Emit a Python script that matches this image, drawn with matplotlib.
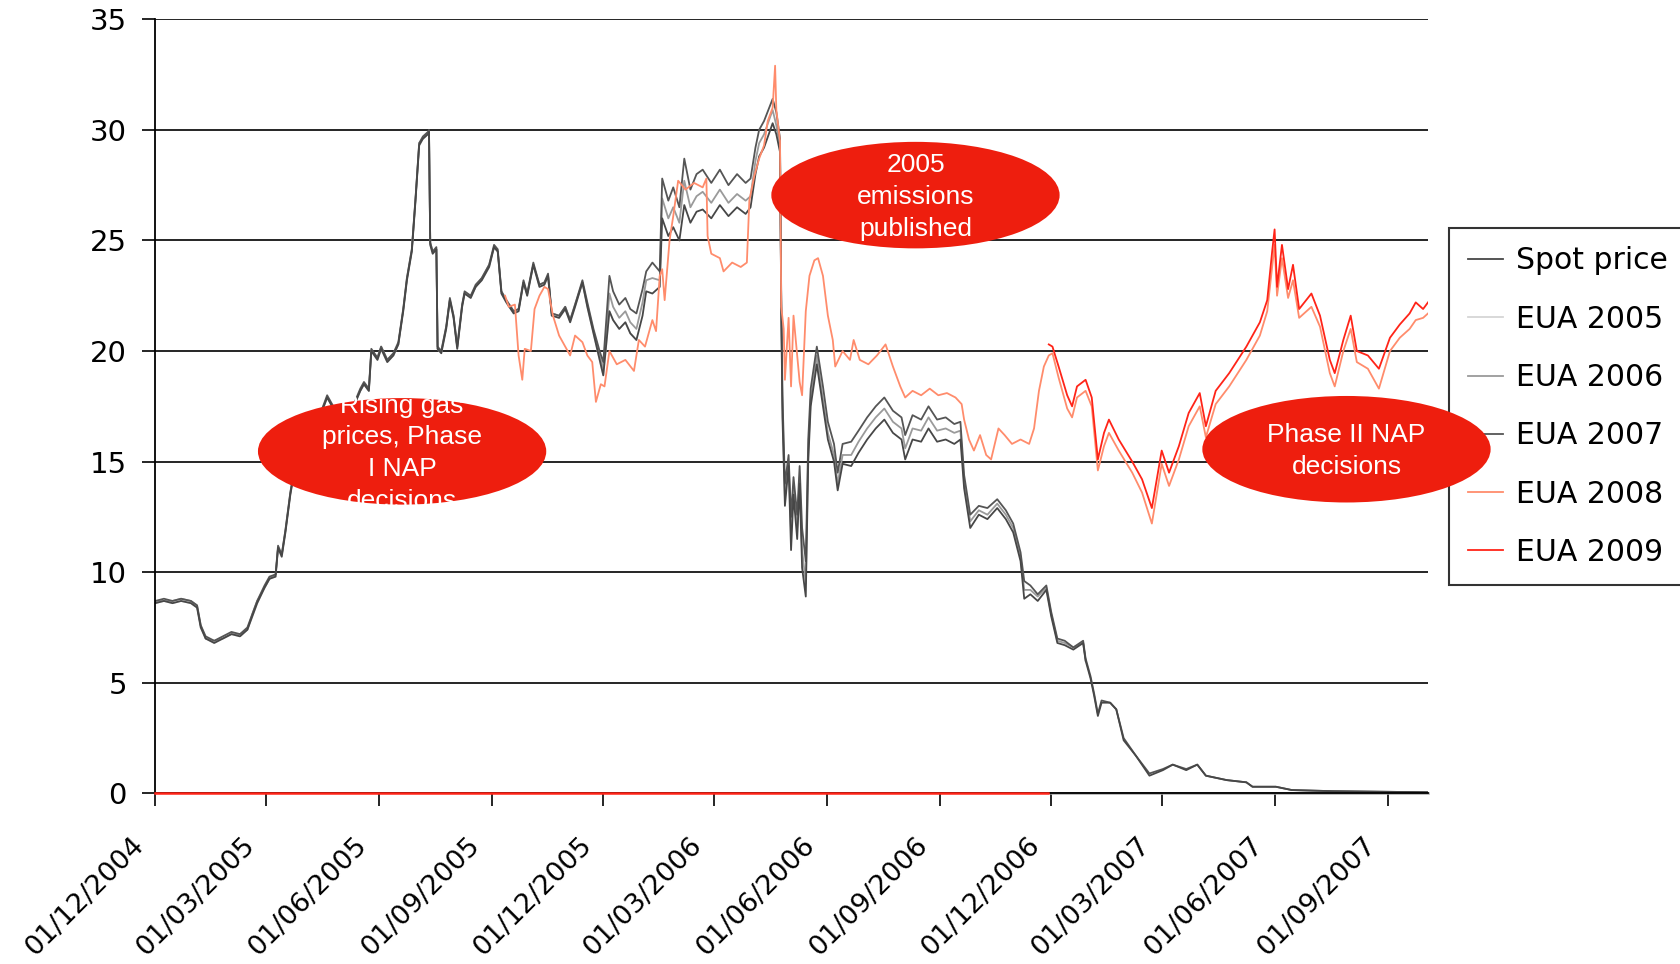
import matplotlib
matplotlib.use("Agg")
import matplotlib.pyplot as plt
import matplotlib.transforms as mtransforms
from matplotlib.patches import Ellipse
import numpy as np
import pandas as pd

# ---- Phase I: spot + EUA 2005/2006/2007 ----
p1_dates = [
    "2004-12-01", "2004-12-08", "2004-12-15", "2004-12-22", "2004-12-30", "2005-01-04", "2005-01-07", "2005-01-11", "2005-01-18", "2005-01-25",
    "2005-02-01", "2005-02-08", "2005-02-14", "2005-02-18", "2005-02-22", "2005-02-28", "2005-03-04", "2005-03-09", "2005-03-11", "2005-03-14",
    "2005-03-17", "2005-03-21", "2005-03-25", "2005-03-31", "2005-04-07", "2005-04-14", "2005-04-20", "2005-04-27", "2005-05-04", "2005-05-11",
    "2005-05-17", "2005-05-20", "2005-05-24", "2005-05-26", "2005-05-31", "2005-06-03", "2005-06-08", "2005-06-13", "2005-06-17", "2005-06-21",
    "2005-06-24", "2005-06-28", "2005-07-01", "2005-07-04", "2005-07-07", "2005-07-11", "2005-07-12", "2005-07-13", "2005-07-15", "2005-07-18",
    "2005-07-19", "2005-07-22", "2005-07-26", "2005-07-29", "2005-08-01", "2005-08-04", "2005-08-08", "2005-08-10", "2005-08-15", "2005-08-19",
    "2005-08-24", "2005-08-30", "2005-09-03", "2005-09-06", "2005-09-09", "2005-09-13", "2005-09-19", "2005-09-23", "2005-09-27", "2005-09-30",
    "2005-10-05", "2005-10-10", "2005-10-14", "2005-10-17", "2005-10-20", "2005-10-26", "2005-10-31", "2005-11-04", "2005-11-08", "2005-11-14",
    "2005-11-18", "2005-11-23", "2005-11-28", "2005-12-01", "2005-12-06", "2005-12-09", "2005-12-14", "2005-12-19", "2005-12-23", "2005-12-28",
    "2006-01-02", "2006-01-05", "2006-01-10", "2006-01-16", "2006-01-18", "2006-01-23", "2006-01-27", "2006-02-01", "2006-02-05", "2006-02-10",
    "2006-02-15", "2006-02-20", "2006-02-27", "2006-03-06", "2006-03-13", "2006-03-20", "2006-03-27", "2006-03-31", "2006-04-04", "2006-04-07",
    "2006-04-11", "2006-04-18", "2006-04-21", "2006-04-24", "2006-04-25", "2006-04-26", "2006-04-28", "2006-05-01", "2006-05-03", "2006-05-05",
    "2006-05-08", "2006-05-10", "2006-05-12", "2006-05-15", "2006-05-17", "2006-05-19", "2006-05-24", "2006-05-29", "2006-06-02", "2006-06-07",
    "2006-06-10", "2006-06-14", "2006-06-21", "2006-06-27", "2006-07-04", "2006-07-11", "2006-07-18", "2006-07-25", "2006-08-01", "2006-08-04",
    "2006-08-10", "2006-08-17", "2006-08-23", "2006-08-30", "2006-09-06", "2006-09-13", "2006-09-18", "2006-09-21", "2006-09-26", "2006-10-03",
    "2006-10-10", "2006-10-18", "2006-10-25", "2006-10-31", "2006-11-06", "2006-11-09", "2006-11-14", "2006-11-20", "2006-11-27", "2006-12-01",
    "2006-12-06", "2006-12-12", "2006-12-19", "2006-12-27", "2006-12-29", "2007-01-02", "2007-01-05", "2007-01-08", "2007-01-11", "2007-01-18",
    "2007-01-23", "2007-01-29", "2007-02-08", "2007-02-19", "2007-03-02", "2007-03-10", "2007-03-21", "2007-03-30", "2007-04-06", "2007-04-23",
    "2007-05-09", "2007-05-14", "2007-06-02", "2007-06-15", "2007-07-18", "2007-10-04",
]

spot = [
    8.6, 8.7, 8.6, 8.7, 8.6, 8.4, 7.5, 7.0, 6.8, 7.0,
    7.2, 7.1, 7.4, 8.0, 8.6, 9.3, 9.7, 9.8, 11.1, 10.7,
    11.8, 13.5, 14.8, 15.8, 16.5, 17.0, 17.9, 17.2, 17.0, 17.4,
    18.2, 18.5, 18.2, 20.0, 19.6, 20.1, 19.5, 19.8, 20.3, 21.8,
    23.2, 24.5, 26.8, 29.3, 29.6, 29.8, 29.9, 24.8, 24.4, 24.6,
    20.1, 19.9, 21.0, 22.3, 21.5, 20.1, 22.0, 22.6, 22.4, 22.9,
    23.2, 23.8, 24.7, 24.5, 22.6, 22.2, 21.7, 21.8, 23.1, 22.5,
    23.9, 22.9, 23.0, 23.4, 21.6, 21.5, 21.9, 21.3, 22.0, 23.1,
    22.0, 20.8, 19.6, 18.9, 21.8, 21.4, 21.0, 21.3, 20.8, 20.5,
    21.6, 22.7, 22.6, 22.9, 26.0, 25.2, 25.6, 25.0, 26.6, 25.8,
    26.3, 26.4, 26.0, 26.6, 26.1, 26.5, 26.2, 26.5, 28.0, 28.8,
    29.2, 30.3, 29.8, 29.0, 22.0, 17.0, 13.0, 14.8, 11.0, 13.5,
    11.5, 14.0, 10.2, 8.9, 15.0, 17.5, 19.4, 17.5, 16.0, 15.0,
    13.7, 14.9, 14.8, 15.4, 16.0, 16.5, 16.9, 16.3, 16.0, 15.1,
    16.0, 15.9, 16.5, 15.9, 16.0, 15.8, 16.0, 13.8, 12.0, 12.6,
    12.4, 12.9, 12.4, 11.8, 10.5, 8.8, 9.0, 8.7, 9.2, 8.0,
    6.8, 6.7, 6.5, 6.8, 6.0, 5.2, 4.4, 3.5, 4.1, 4.1,
    3.8, 2.4, 1.7, 0.8, 1.05, 1.3, 1.05, 1.3, 0.8, 0.6,
    0.5, 0.3, 0.3, 0.15, 0.1, 0.05,
]

# EUA 2005 runs to the end of 2005
eua2005 = [
    8.6, 8.7, 8.6, 8.7, 8.6, 8.4, 7.5, 7.0, 6.8, 7.0,
    7.2, 7.1, 7.4, 8.0, 8.6, 9.3, 9.7, 9.8, 11.1, 10.7,
    11.8, 13.5, 14.8, 15.8, 16.5, 17.0, 17.9, 17.2, 17.0, 17.4,
    18.2, 18.5, 18.2, 20.0, 19.6, 20.1, 19.5, 19.8, 20.3, 21.8,
    23.2, 24.5, 26.8, 29.3, 29.6, 29.8, 29.9, 24.8, 24.4, 24.6,
    20.1, 19.9, 21.0, 22.3, 21.5, 20.1, 22.0, 22.6, 22.4, 22.9,
    23.2, 23.8, 24.7, 24.5, 22.6, 22.2, 21.7, 21.8, 23.1, 22.5,
    23.9, 22.9, 23.0, 23.4, 21.6, 21.5, 21.9, 21.3, 22.0, 23.1,
    22.0, 20.8, 19.6, 18.9, 21.8, 21.4, 21.0, 21.3, 20.8, 20.5,
]

# EUA 2006 runs to the end of 2006
eua2006 = [
    8.7, 8.7, 8.7, 8.8, 8.7, 8.5, 7.6, 7.0, 6.9, 7.0,
    7.2, 7.2, 7.4, 8.1, 8.7, 9.3, 9.7, 9.9, 11.1, 10.8,
    11.9, 13.6, 14.9, 15.9, 16.6, 17.1, 17.9, 17.3, 17.1, 17.5,
    18.2, 18.5, 18.2, 20.0, 19.7, 20.2, 19.6, 19.9, 20.3, 21.9,
    23.3, 24.6, 26.9, 29.4, 29.6, 29.8, 29.9, 24.9, 24.5, 24.6,
    20.1, 20.0, 21.1, 22.3, 21.6, 20.2, 22.1, 22.6, 22.5, 22.9,
    23.3, 23.9, 24.7, 24.5, 22.7, 22.3, 21.8, 21.9, 23.1, 22.6,
    23.9, 23.0, 23.1, 23.4, 21.7, 21.6, 22.0, 21.4, 22.1, 23.1,
    22.1, 20.9, 19.8, 19.2, 22.6, 22.0, 21.5, 21.8, 21.3, 21.0,
    22.2, 23.2, 23.3, 23.2, 26.9, 26.0, 26.5, 25.8, 27.7, 26.5,
    27.0, 27.2, 26.7, 27.3, 26.7, 27.1, 26.8, 27.0, 28.6, 29.4,
    29.8, 30.9, 30.2, 29.3, 22.2, 17.5, 13.4, 15.0, 11.8, 13.8,
    12.0, 14.3, 11.0, 9.5, 15.5, 17.8, 19.8, 17.8, 16.3, 15.3,
    14.0, 15.3, 15.3, 15.9, 16.5, 17.0, 17.4, 16.8, 16.5, 15.6,
    16.5, 16.4, 17.0, 16.4, 16.5, 16.3, 16.4, 14.1, 12.3, 12.8,
    12.6, 13.1, 12.6, 12.0, 10.7, 9.2, 9.2, 8.9, 9.3, 8.1,
    6.9, 6.8, 6.6, 6.8, 6.0,
]

eua2007 = [
    8.7, 8.8, 8.7, 8.8, 8.7, 8.5, 7.6, 7.1, 6.9, 7.1,
    7.3, 7.2, 7.5, 8.1, 8.7, 9.4, 9.8, 9.9, 11.2, 10.8,
    11.9, 13.6, 14.9, 15.9, 16.6, 17.1, 18.0, 17.3, 17.1, 17.5,
    18.3, 18.6, 18.3, 20.1, 19.7, 20.2, 19.6, 19.9, 20.4, 21.9,
    23.3, 24.6, 26.9, 29.4, 29.7, 29.9, 30.0, 24.9, 24.5, 24.7,
    20.2, 20.0, 21.1, 22.4, 21.6, 20.2, 22.1, 22.7, 22.5, 23.0,
    23.3, 23.9, 24.8, 24.6, 22.7, 22.3, 21.8, 21.9, 23.2, 22.6,
    24.0, 23.0, 23.1, 23.5, 21.7, 21.6, 22.0, 21.4, 22.1, 23.2,
    22.2, 21.0, 20.0, 19.5, 23.4, 22.7, 22.1, 22.4, 21.9, 21.7,
    22.8, 23.6, 24.0, 23.6, 27.8, 26.8, 27.4, 26.5, 28.7, 27.3,
    28.0, 28.2, 27.6, 28.2, 27.5, 28.0, 27.6, 27.8, 29.2, 30.0,
    30.4, 31.4, 30.8, 29.6, 22.4, 18.0, 14.0, 15.3, 12.5, 14.3,
    12.6, 14.8, 12.0, 10.5, 16.0, 18.3, 20.2, 18.4, 16.8, 15.8,
    14.5, 15.8, 15.9, 16.4, 17.0, 17.5, 17.9, 17.3, 17.0, 16.2,
    17.1, 16.9, 17.5, 16.9, 17.0, 16.7, 16.8, 14.4, 12.6, 13.0,
    12.9, 13.3, 12.8, 12.2, 10.9, 9.6, 9.4, 9.0, 9.4, 8.2,
    7.0, 6.9, 6.6, 6.9, 6.1, 5.3, 4.5, 3.6, 4.2, 4.1,
    3.8, 2.5, 1.7, 0.9, 1.1, 1.3, 1.1, 1.3, 0.8, 0.6,
    0.5, 0.3, 0.3, 0.15, 0.1, 0.05,
]

# ---- Phase II: EUA 2008 / 2009 ----
p2_dates = [
    "2005-09-12", "2005-09-15", "2005-09-20", "2005-09-23", "2005-09-26", "2005-09-28", "2005-10-03", "2005-10-06", "2005-10-10", "2005-10-14",
    "2005-10-17", "2005-10-21", "2005-10-26", "2005-11-01", "2005-11-04", "2005-11-08", "2005-11-14", "2005-11-18", "2005-11-22", "2005-11-25",
    "2005-11-29", "2005-12-02", "2005-12-06", "2005-12-12", "2005-12-19", "2005-12-26", "2005-12-30", "2006-01-04", "2006-01-10", "2006-01-13",
    "2006-01-16", "2006-01-18", "2006-01-20", "2006-01-24", "2006-01-27", "2006-01-31", "2006-02-06", "2006-02-13", "2006-02-20", "2006-02-23",
    "2006-02-24", "2006-02-27", "2006-03-06", "2006-03-09", "2006-03-16", "2006-03-23", "2006-03-28", "2006-03-30", "2006-04-03", "2006-04-07",
    "2006-04-11", "2006-04-14", "2006-04-18", "2006-04-20", "2006-04-21", "2006-04-24", "2006-04-25", "2006-04-27", "2006-04-28", "2006-05-01",
    "2006-05-03", "2006-05-05", "2006-05-08", "2006-05-10", "2006-05-12", "2006-05-15", "2006-05-18", "2006-05-22", "2006-05-25", "2006-05-29",
    "2006-06-02", "2006-06-06", "2006-06-08", "2006-06-14", "2006-06-20", "2006-06-23", "2006-06-28", "2006-07-05", "2006-07-12", "2006-07-19",
    "2006-07-25", "2006-07-31", "2006-08-04", "2006-08-10", "2006-08-17", "2006-08-24", "2006-08-31", "2006-09-07", "2006-09-14", "2006-09-19",
    "2006-09-21", "2006-09-25", "2006-09-29", "2006-10-04", "2006-10-09", "2006-10-13", "2006-10-19", "2006-10-24", "2006-10-30", "2006-11-06",
    "2006-11-13", "2006-11-17", "2006-11-21", "2006-11-25",
    "2006-11-29", "2006-12-02", "2006-12-07", "2006-12-14", "2006-12-18", "2006-12-22", "2006-12-29", "2007-01-03", "2007-01-08", "2007-01-13",
    "2007-01-17", "2007-01-25", "2007-02-05", "2007-02-13", "2007-02-21", "2007-03-01", "2007-03-07", "2007-03-15", "2007-03-23", "2007-04-01",
    "2007-04-06", "2007-04-14", "2007-04-25", "2007-05-09", "2007-05-20", "2007-05-26", "2007-05-30", "2007-06-01", "2007-06-03", "2007-06-07",
    "2007-06-12", "2007-06-16", "2007-06-21", "2007-07-01", "2007-07-08", "2007-07-16", "2007-07-20", "2007-07-27", "2007-08-02", "2007-08-07",
    "2007-08-16", "2007-08-25", "2007-09-03", "2007-09-11", "2007-09-19", "2007-09-24", "2007-09-30", "2007-10-04",
]

eua2008 = [
    22.5, 22.0, 22.1, 19.8, 18.7, 20.1, 20.0, 21.9, 22.5, 22.9,
    22.8, 21.6, 20.7, 20.1, 19.8, 20.7, 20.4, 19.8, 19.5, 17.7,
    18.5, 18.4, 20.0, 19.4, 19.6, 19.1, 20.5, 20.2, 21.4, 20.9,
    23.4, 23.7, 22.3, 25.0, 26.1, 27.7, 27.3, 27.6, 27.4, 27.8,
    25.2, 24.4, 24.2, 23.6, 24.0, 23.8, 24.0, 26.8, 27.9, 28.7,
    29.3, 30.4, 31.0, 32.9, 30.9, 29.5, 22.0, 21.0, 18.7, 21.5,
    18.4, 21.6, 19.8, 18.6, 18.0, 21.8, 23.4, 24.1, 24.2, 23.4,
    21.6, 20.5, 19.3, 20.0, 19.6, 20.5, 19.6, 19.4, 19.8, 20.3,
    19.3, 18.4, 17.9, 18.2, 18.0, 18.3, 18.0, 18.1, 17.9, 17.6,
    16.9, 16.0, 15.5, 16.2, 15.3, 15.1, 16.5, 16.2, 15.8, 16.0,
    15.8, 16.5, 18.2, 19.3,
    19.8, 19.9, 18.8, 17.4, 17.0, 17.9, 18.2, 17.5, 14.6, 15.7,
    16.3, 15.5, 14.5, 13.6, 12.2, 14.9, 13.9, 15.1, 16.6, 17.5,
    16.1, 17.6, 18.4, 19.6, 20.7, 21.8, 23.8, 24.8, 22.5, 24.2,
    22.4, 23.2, 21.5, 22.0, 21.1, 19.0, 18.4, 20.0, 21.0, 19.5,
    19.2, 18.3, 20.0, 20.6, 21.0, 21.4, 21.5, 21.7,
]

# EUA 2009 starts end of Nov 2006 (last 48 Phase II dates)
eua2009 = [
    20.3, 20.2, 19.3, 18.0, 17.5, 18.4, 18.7, 17.9, 15.1, 16.3,
    16.9, 16.0, 15.0, 14.2, 12.9, 15.5, 14.5, 15.7, 17.2, 18.1,
    16.6, 18.2, 19.0, 20.2, 21.3, 22.3, 24.5, 25.5, 22.9, 24.8,
    22.8, 23.9, 21.9, 22.6, 21.6, 19.6, 19.0, 20.5, 21.6, 20.0,
    19.8, 19.2, 20.6, 21.2, 21.7, 22.2, 21.9, 22.2,
]

# flat zero stretches drawn along the axis
eua2009_zero_dates = ["2004-12-01", "2006-11-28"]
eua2006_zero_dates = ["2006-12-01", "2007-10-04"]
zero_vals = [0, 0]

notes = ["Rising gas\nprices, Phase\nI NAP\ndecisions",
         "2005\nemissions\npublished",
         "Phase II NAP\ndecisions"]

d1 = pd.to_datetime(p1_dates)
d2 = pd.to_datetime(p2_dates)

fig = plt.figure(figsize=(16.81, 9.64), dpi=100)
ax = fig.add_axes([0.0924, 0.177, 0.7571, 0.803])

lw = 1.3
ax.plot(d1, spot, color="#474747", lw=lw, label="Spot price", zorder=2.3)
ax.plot(d1[:len(eua2005)], eua2005, color="#d6d6d6", lw=lw, label="EUA 2005", zorder=2.0)
ax.plot(d1[:len(eua2006)], eua2006, color="#9a9a9a", lw=lw, label="EUA 2006", zorder=2.1)
ax.plot(d1, eua2007, color="#555555", lw=lw, label="EUA 2007", zorder=2.2)
ax.plot(d2, eua2008, color="#ff8c6c", lw=lw, label="EUA 2008", zorder=2.4)
ax.plot(d2[len(d2) - len(eua2009):], eua2009, color="#ff2418", lw=lw, label="EUA 2009", zorder=2.5)
ax.plot(pd.to_datetime(eua2006_zero_dates), zero_vals, color="#a8a8a8", lw=1.8, zorder=2.05, clip_on=False)
ax.plot(pd.to_datetime(eua2009_zero_dates), zero_vals, color="#ff2418", lw=1.8, zorder=3, clip_on=False)

ax.set_xlim(pd.Timestamp("2004-12-01"), pd.Timestamp("2007-10-04"))
ax.set_ylim(0, 35)
ax.set_yticks(range(0, 36, 5))
ax.yaxis.grid(True, color="black", lw=1.2)
ax.set_axisbelow(True)

for s in ["top", "right"]:
    ax.spines[s].set_visible(False)
for s in ["left", "bottom"]:
    ax.spines[s].set_linewidth(1.3)
    ax.spines[s].set_color("black")

ax.tick_params(axis="y", length=9.5, width=1.2, pad=11, labelsize=21)
ax.tick_params(axis="x", length=9.5, width=1.2, pad=25, labelsize=19.5)

xt = pd.date_range("2004-12-01", "2007-09-01", freq="3MS")
ax.set_xticks(xt)
ax.set_xticklabels([d.strftime("%d/%m/%Y") for d in xt], rotation=45,
                   ha="right", va="center", rotation_mode="anchor")
# nudge the slanted date labels to the left, as in the original
shift = mtransforms.ScaledTranslation(-11 / 72, 0, fig.dpi_scale_trans)
for lab in ax.get_xticklabels():
    lab.set_transform(lab.get_transform() + shift)

leg = fig.legend(loc="upper left", bbox_to_anchor=(0.862, 0.7635),
                 fontsize=21.5, frameon=True, fancybox=False, edgecolor="black",
                 handlelength=1.2, handletextpad=0.42, labelspacing=0.98,
                 borderpad=0.62, borderaxespad=0)
leg.get_frame().set_linewidth(1.5)
leg.set_zorder(5)

# red call-out ellipses, text clipped to the shape
spots = [(0.2392, 0.5318), (0.5446, 0.7976), (0.8010, 0.5340)]
for (cx, cy), note in zip(spots, notes):
    ell = Ellipse((cx, cy), 0.1715, 0.1105, transform=fig.transFigure,
                  facecolor="#ee1e0e", edgecolor="none", zorder=10)
    fig.add_artist(ell)
    t = fig.text(cx, cy - 0.002, note, ha="center", va="center", color="white",
                 fontsize=19, family="Liberation Sans", linespacing=1.4,
                 zorder=11)
    t.set_clip_path(ell)

fig.savefig("out.png", dpi=100)
